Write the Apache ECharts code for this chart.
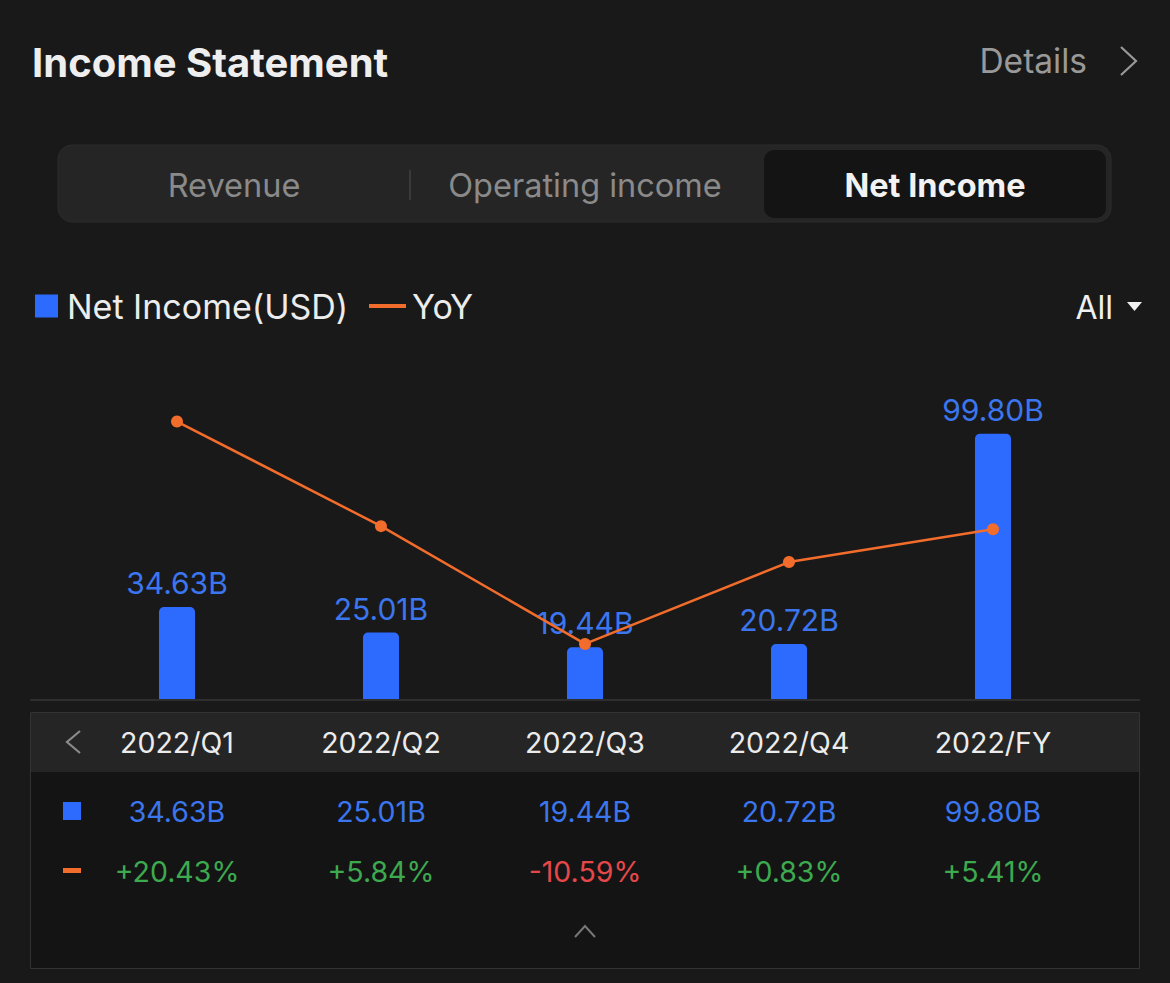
<!DOCTYPE html>
<html>
<head>
<meta charset="utf-8">
<script src="https://cdn.jsdelivr.net/npm/echarts@6/dist/echarts.min.js"></script>
<style>
  html, body { margin: 0; padding: 0; background: #19191a; }
  #chart { width: 1170px; height: 983px; }
</style>
</head>
<body>
<div id="chart"></div>
<script>
const categories = ['2022/Q1', '2022/Q2', '2022/Q3', '2022/Q4', '2022/FY'];
const netIncome = [34.63, 25.01, 19.44, 20.72, 99.80];
const yoy = [20.43, 5.84, -10.59, 0.83, 5.41];
const tabs = ['Revenue', 'Operating income', 'Net Income'];
const seriesNames = ['Net Income(USD)', 'YoY'];

const FONT = 'Inter, "Noto Sans", sans-serif';
const BLUE = '#2d6bff';
const BLUE_TEXT = '#3b76ee';
const ORANGE = '#f26c2b';
const GREEN = '#3daa4f';
const RED = '#e5484a';

const fmtB = v => v.toFixed(2) + 'B';
const fmtPct = v => (v >= 0 ? '+' : '') + v.toFixed(2) + '%';

const chart = echarts.init(document.getElementById('chart'), null, { renderer: 'svg', width: 1170, height: 983 });

const baseX = {
  type: 'category', data: categories, gridIndex: 0, position: 'bottom',
  axisLine: { show: false }, axisTick: { show: false }, splitLine: { show: false }
};

const option = {
  backgroundColor: '#19191a',
  animation: false,
  textStyle: { fontFamily: FONT },
  legend: [
    {
      data: [{ name: seriesNames[0], icon: 'rect' }],
      left: 30, top: 284, itemWidth: 23, itemHeight: 23, itemGap: 10,
      textStyle: { color: '#ececec', fontSize: 34, fontFamily: FONT, padding: [0, 0, 0, 4] },
      selectedMode: false
    },
    {
      data: [{ name: seriesNames[1], icon: 'rect' }],
      left: 364, top: 284, itemWidth: 37, itemHeight: 4, itemGap: 10,
      textStyle: { color: '#ececec', fontSize: 34, fontFamily: FONT, padding: [0, 0, 0, 1] },
      selectedMode: false
    }
  ],
  grid: { left: 75, right: 75, top: 380, bottom: 284, containLabel: false },
  xAxis: [
    Object.assign({}, baseX, {
      axisLabel: { interval: 0, color: '#ececec', fontSize: 28.5, margin: 43, verticalAlign: 'middle', fontFamily: FONT }
    }),
    Object.assign({}, baseX, {
      axisLabel: { interval: 0, color: BLUE_TEXT, fontSize: 28.5, margin: 112, verticalAlign: 'middle', fontFamily: FONT,
        formatter: (v, i) => fmtB(netIncome[i]) }
    }),
    Object.assign({}, baseX, {
      axisLabel: { interval: 0, fontSize: 28.5, margin: 172, verticalAlign: 'middle', fontFamily: FONT,
        formatter: (v, i) => (yoy[i] >= 0 ? '{up|' : '{down|') + fmtPct(yoy[i]) + '}',
        rich: {
          up: { color: GREEN, fontSize: 28.5, fontFamily: FONT },
          down: { color: RED, fontSize: 28.5, fontFamily: FONT }
        } }
    })
  ],
  yAxis: [
    { type: 'value', min: 0, max: 120, show: false },
    { type: 'value', min: -18.27, max: 26.22, show: false }
  ],
  series: [
    {
      name: seriesNames[0], type: 'bar', data: netIncome, xAxisIndex: 0, yAxisIndex: 0,
      barWidth: 36,
      itemStyle: { color: BLUE, borderRadius: [5, 5, 0, 0] },
      label: { show: true, position: 'top', distance: 9, color: BLUE_TEXT, fontSize: 30, fontFamily: FONT,
        formatter: p => fmtB(p.value) }
    },
    {
      name: seriesNames[1], type: 'line', data: yoy, xAxisIndex: 0, yAxisIndex: 1,
      symbol: 'circle', symbolSize: 12, z: 5,
      lineStyle: { color: ORANGE, width: 2.5 },
      itemStyle: { color: ORANGE }
    }
  ],
  graphic: [
    // title
    { type: 'text', x: 32, y: 62, z: 10,
      style: { text: 'Income Statement', fill: '#eeeeee', fontSize: 40, fontWeight: 'bold', fontFamily: FONT, verticalAlign: 'middle' } },
    // details
    { type: 'text', x: 1087, y: 61, z: 10,
      style: { text: 'Details', fill: '#999999', fontSize: 33.5, fontFamily: FONT, align: 'right', verticalAlign: 'middle' } },
    { type: 'polyline', z: 10, shape: { points: [[1121, 47], [1136, 61], [1121, 75]] },
      style: { stroke: '#999999', lineWidth: 2.2, fill: null } },
    // tabs
    { type: 'rect', z: 1, shape: { x: 58, y: 145, width: 1053, height: 77, r: 14 },
      style: { fill: '#252525', stroke: '#2c2c2c', lineWidth: 1 } },
    { type: 'rect', z: 2, shape: { x: 764, y: 150, width: 342, height: 68, r: 10 },
      style: { fill: '#141414' } },
    { type: 'line', z: 2, shape: { x1: 410, y1: 170, x2: 410, y2: 200 },
      style: { stroke: '#3a3a3a', lineWidth: 2 } },
    { type: 'text', z: 3, x: 234, y: 185,
      style: { text: tabs[0], fill: '#8a8a8a', fontSize: 32.5, fontFamily: FONT, align: 'center', verticalAlign: 'middle' } },
    { type: 'text', z: 3, x: 585, y: 185,
      style: { text: tabs[1], fill: '#8a8a8a', fontSize: 32.5, fontFamily: FONT, align: 'center', verticalAlign: 'middle' } },
    { type: 'text', z: 3, x: 935, y: 185,
      style: { text: tabs[2], fill: '#f2f2f2', fontSize: 32.5, fontWeight: 'bold', fontFamily: FONT, align: 'center', verticalAlign: 'middle' } },
    // All dropdown
    { type: 'text', z: 3, x: 1113, y: 307,
      style: { text: 'All', fill: '#f0f0f0', fontSize: 32, fontFamily: FONT, align: 'right', verticalAlign: 'middle' } },
    { type: 'polygon', z: 3, shape: { points: [[1127, 302], [1142, 302], [1134.5, 311]] },
      style: { fill: '#f0f0f0' } },
    // baseline
    { type: 'line', z: 1, shape: { x1: 30, y1: 700, x2: 1140, y2: 700 },
      style: { stroke: '#2e2e2e', lineWidth: 2 } },
    // table
    { type: 'rect', z: -1, shape: { x: 30.5, y: 712.5, width: 1109, height: 256 },
      style: { fill: '#141414', stroke: '#333333', lineWidth: 1 } },
    { type: 'rect', z: -1, shape: { x: 31, y: 713, width: 1108, height: 59 },
      style: { fill: '#252525' } },
    { type: 'polyline', z: 3, shape: { points: [[80, 731], [67, 742], [80, 753]] },
      style: { stroke: '#8a8a8a', lineWidth: 2.2, fill: null } },
    { type: 'rect', z: 3, shape: { x: 63, y: 802, width: 18, height: 18 }, style: { fill: BLUE } },
    { type: 'rect', z: 3, shape: { x: 63, y: 868, width: 18, height: 5 }, style: { fill: ORANGE } },
    { type: 'polyline', z: 3, shape: { points: [[575, 937], [585, 926], [595, 937]] },
      style: { stroke: '#777777', lineWidth: 2, fill: null } }
  ]
};

chart.setOption(option);
</script>
</body>
</html>
